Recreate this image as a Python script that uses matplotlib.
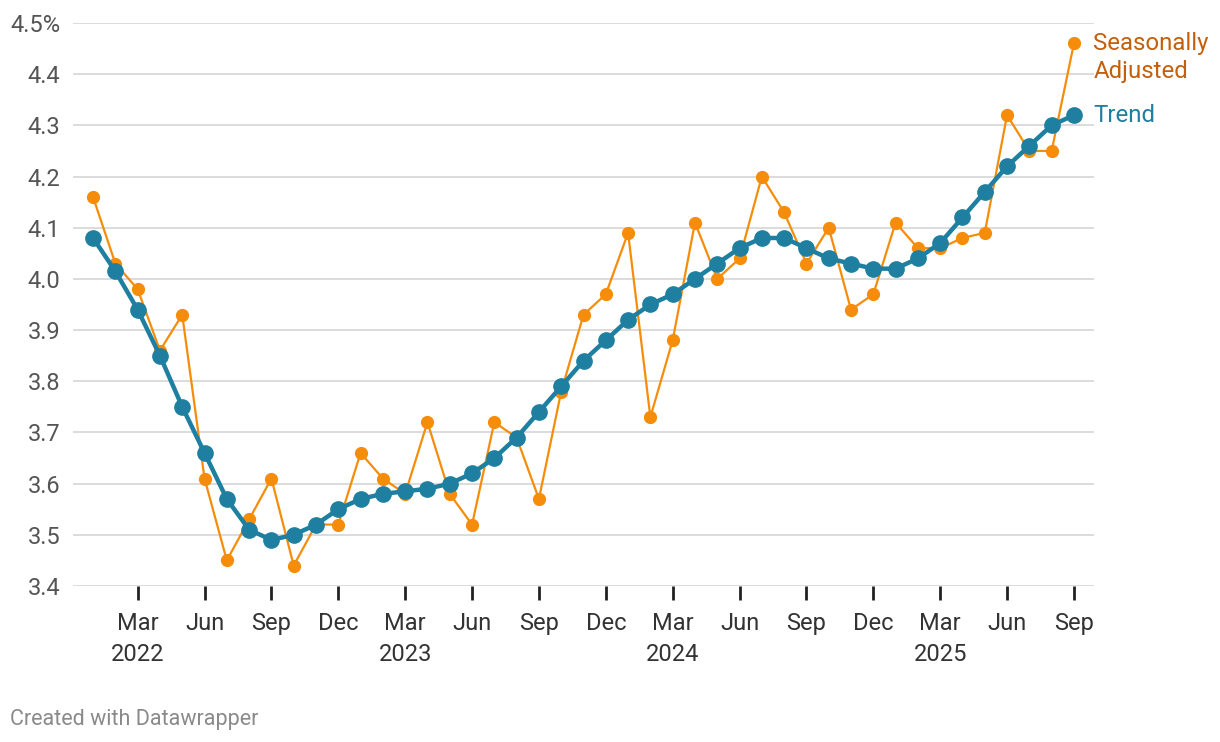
import numpy as np
import matplotlib
matplotlib.use("Agg")
import matplotlib.pyplot as plt

plt.rcParams['font.family'] = ['Roboto', 'DejaVu Sans']

# monthly values, Jan 2022 .. Sep 2025
months = ["Jan", "Feb", "Mar", "Apr", "May", "Jun", "Jul", "Aug", "Sep", "Oct", "Nov", "Dec"]
years = [2022, 2023, 2024, 2025]

seasonally_adjusted = [4.16, 4.03, 3.98, 3.86, 3.93, 3.61, 3.45, 3.53, 3.61, 3.44, 3.52, 3.52,
                       3.66, 3.61, 3.58, 3.72, 3.58, 3.52, 3.72, 3.69, 3.57, 3.78, 3.93, 3.97,
                       4.09, 3.73, 3.88, 4.11, 4.00, 4.04, 4.20, 4.13, 4.03, 4.10, 3.94, 3.97,
                       4.11, 4.06, 4.06, 4.08, 4.09, 4.32, 4.25, 4.25, 4.46]
trend = [4.08, 4.015, 3.94, 3.85, 3.75, 3.66, 3.57, 3.51, 3.49, 3.50, 3.52, 3.55,
         3.57, 3.58, 3.585, 3.59, 3.60, 3.62, 3.65, 3.69, 3.74, 3.79, 3.84, 3.88,
         3.92, 3.95, 3.97, 4.00, 4.03, 4.06, 4.08, 4.08, 4.06, 4.04, 4.03, 4.02,
         4.02, 4.04, 4.07, 4.12, 4.17, 4.22, 4.26, 4.30, 4.32]

y_ticks = [3.4, 3.5, 3.6, 3.7, 3.8, 3.9, 4.0, 4.1, 4.2, 4.3, 4.4, 4.5]

orange = "#f68d0a"
orange_text = "#c4600c"
blue = "#1e7fa0"

x = np.arange(len(trend))

fig = plt.figure(figsize=(12.2, 7.42), dpi=100)
ax = fig.add_axes([73 / 1220, 1 - 586 / 742, (1094 - 73) / 1220, (586 - 23) / 742])

for yv in y_ticks:
    ax.axhline(yv, color="#d9d9d9", lw=1.3, zorder=0)

ax.plot(x, seasonally_adjusted, color=orange, lw=1.6, marker="o", ms=8.5, zorder=2)
ax.plot(x, trend, color=blue, lw=3.2, marker="o", ms=11, zorder=3)

ax.set_xlim(-0.9, len(trend) - 0.1)
ax.set_ylim(3.4, 4.5)

for s in ax.spines.values():
    s.set_visible(False)

ax.set_yticks(y_ticks)
ylabels = ["%.1f" % v for v in y_ticks]
ylabels[-1] = ylabels[-1] + "%"
ax.set_yticklabels(ylabels)
ax.tick_params(axis="y", length=0, pad=9, labelsize=17, labelcolor="#555555")

# x ticks every quarter starting March
xt = [i for i in range(len(trend)) if i % 3 == 2]
xl = []
for i in xt:
    m = months[i % 12]
    if m == "Mar":
        xl.append(m + "\n" + str(years[i // 12]))
    else:
        xl.append(m)
ax.set_xticks(xt)
ax.set_xticklabels(xl, linespacing=1.45)
ax.tick_params(axis="x", length=10, width=2, color="#222222", pad=8.5,
               labelsize=17, labelcolor="#333333")
for lbl in ax.get_xticklabels():
    lbl.set_verticalalignment("top")

# line labels at the right end
last = len(trend) - 1
ax.annotate("Seasonally", (last, seasonally_adjusted[-1]), xytext=(14, -5),
            textcoords="offset points", va="baseline", ha="left", fontsize=17.3,
            color=orange_text, annotation_clip=False)
ax.annotate("Adjusted", (last, seasonally_adjusted[-1]), xytext=(14, -24.5),
            textcoords="offset points", va="baseline", ha="left", fontsize=17.3,
            color=orange_text, annotation_clip=False)
ax.annotate("Trend", (last, trend[-1]), xytext=(14, 0), textcoords="offset points",
            va="center", ha="left", fontsize=17.3, color=blue, annotation_clip=False)

fig.text(10 / 1220, 1 - 720 / 742, "Created with Datawrapper", fontsize=15.5,
         color="#8a8a8a", va="center", ha="left")

fig.savefig("out.png", dpi=100)
